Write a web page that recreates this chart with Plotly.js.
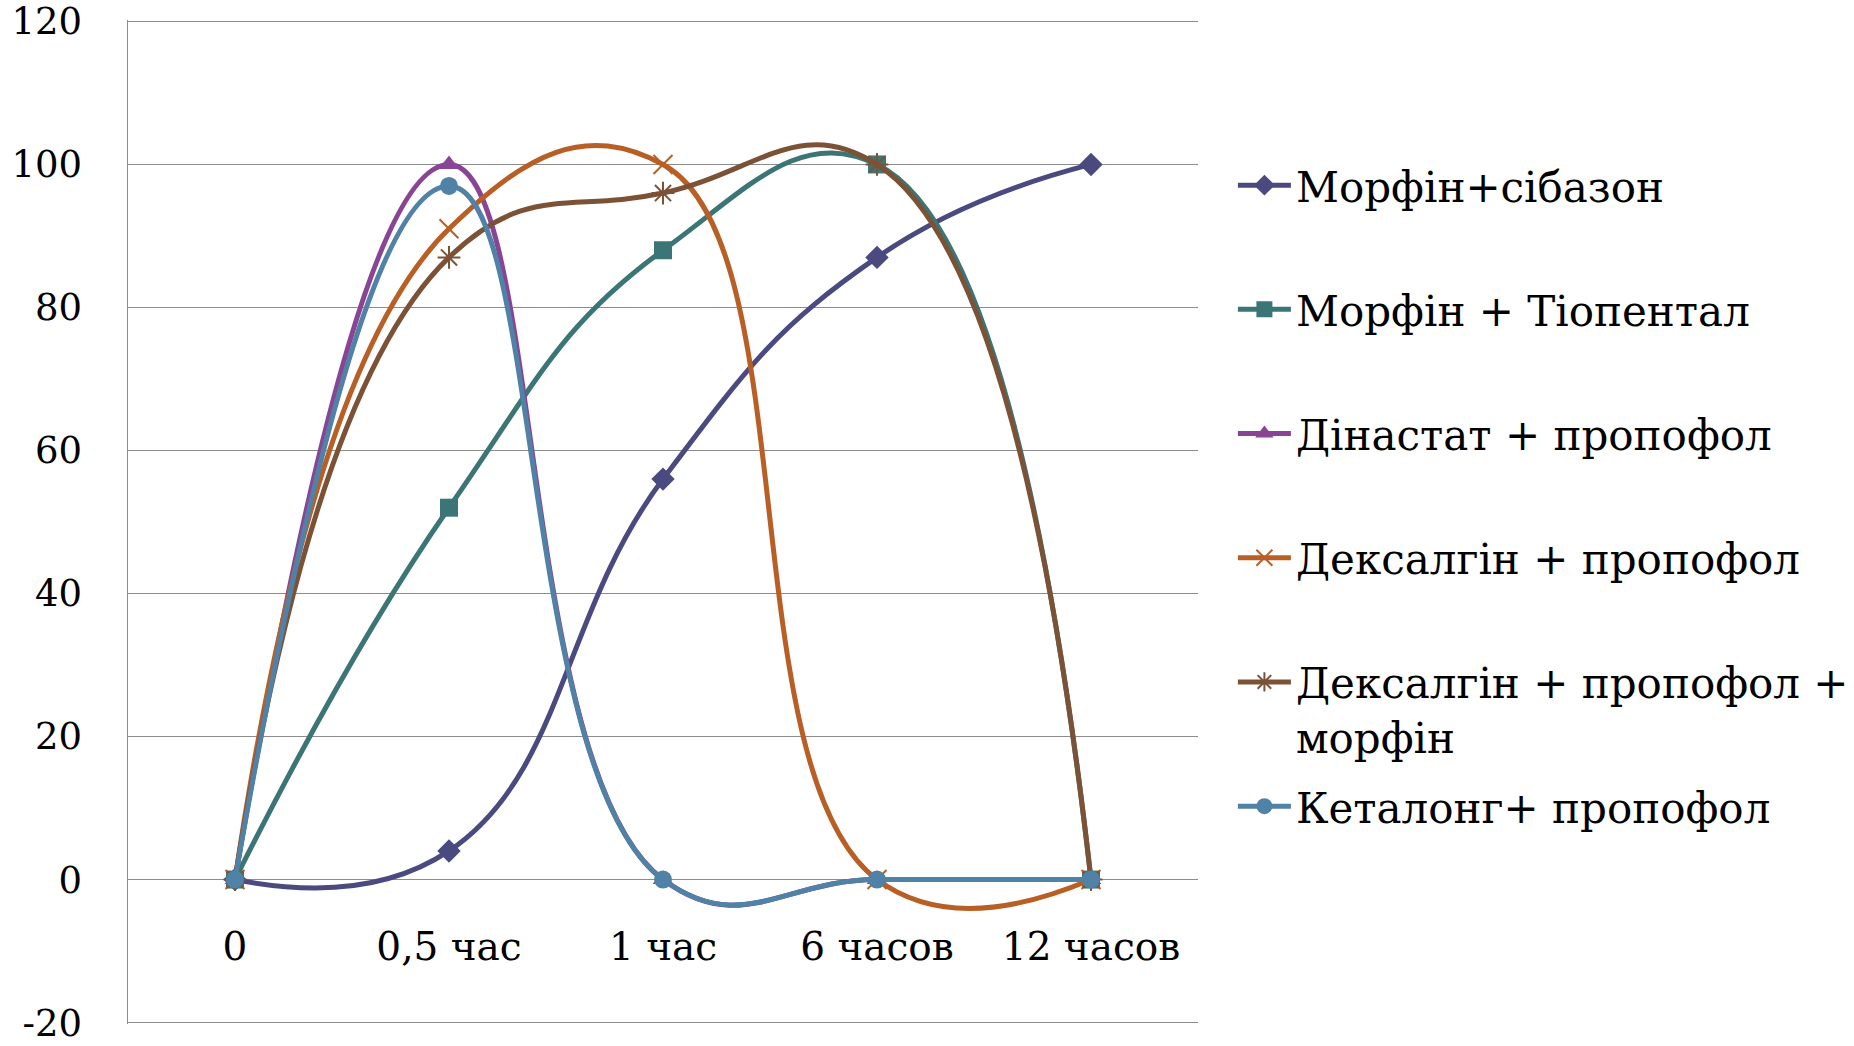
<!DOCTYPE html>
<html><head><meta charset="utf-8">
<script src="https://cdn.plot.ly/plotly-3.0.1.min.js"></script>
<style>html,body{margin:0;padding:0;background:#fff}</style>
</head><body><div id="chart" style="width:1854px;height:1046px"></div>
<script>
const categories = ['0', '0,5 час', '1 час', '6 часов', '12 часов'];
const seriesNames = ['Морфін+сібазон', 'Морфін + Тіопентал', 'Дінастат + пропофол', 'Дексалгін + пропофол', 'Дексалгін + пропофол +<br>морфін', 'Кеталонг+ пропофол'];
const morphineSibazon = [0, 4, 56, 87, 100];
const morphineThiopental = [0, 52, 88, 100, 0];
const dinastatPropofol = [0, 100, 0, 0, 0];
const dexalginPropofol = [0, 91, 100, 0, 0];
const dexalginPropofolMorphine = [0, 87, 96, 100, 0];
const ketalongPropofol = [0, 97, 0, 0, 0];
const yTickVals = [-20, 0, 20, 40, 60, 80, 100, 120];

const seriesValues = [morphineSibazon, morphineThiopental, dinastatPropofol, dexalginPropofol, dexalginPropofolMorphine, ketalongPropofol];
const colors = ['#4a4a80', '#3b7575', '#8a4495', '#b85f25', '#7c5236', '#5081a6'];
const symbols = ['diamond', 'square', 'triangle-up', 'x-thin-open', 'asterisk-open', 'circle'];

const traces = seriesValues.map((vals, i) => {
  const lineOnly = symbols[i].endsWith('-open');
  const label = seriesNames[i].includes('<br>') ? seriesNames[i] : seriesNames[i] + '<br>';
  return {
    type: 'scatter', mode: 'lines+markers',
    x: categories, y: vals, name: label, legendgroup: 'g' + i,
    line: {color: colors[i], width: 5, shape: 'spline', smoothing: 1.3},
    marker: {symbol: symbols[i], size: lineOnly ? 19 : 18, color: colors[i],
             line: {color: colors[i], width: lineOnly ? 2 : 0}},
    cliponaxis: false
  };
});

const yPad = 0.2;
const layout = {
  width: 1854, height: 1046,
  margin: {l: 128, r: 656, t: 19.6, b: 21.6, pad: 0},
  paper_bgcolor: '#ffffff', plot_bgcolor: '#ffffff',
  font: {family: 'DejaVu Serif, serif', color: '#000000'},
  showlegend: true,
  legend: {
    xref: 'container', yref: 'container', x: 0.665, y: 0.8553, xanchor: 'left', yanchor: 'top',
    font: {size: 42, color: '#000000', family: 'DejaVu Serif, serif'},
    itemwidth: 53, tracegroupgap: 12, valign: 'top', bgcolor: 'rgba(0,0,0,0)',
    maxheight: 1000
  },
  xaxis: {
    type: 'category', range: [-0.5, 4.5], anchor: 'free', position: (20 + yPad) / (140 + 2 * yPad),
    showline: false, showgrid: false, zeroline: false, ticks: '',
    tickfont: {size: 39, family: 'DejaVu Serif, serif', color: '#000'},
    ticklabelstandoff: 40, automargin: false, fixedrange: true
  },
  yaxis: {
    range: [-20 - yPad, 120 + yPad], tickvals: yTickVals, ticktext: yTickVals.map(String),
    showgrid: true, gridcolor: '#8c8c8c', gridwidth: 1.5,
    zeroline: true, zerolinecolor: '#8c8c8c', zerolinewidth: 1.5,
    showline: true, linecolor: '#8c8c8c', linewidth: 1.5, ticks: '',
    tickfont: {size: 37, family: 'DejaVu Serif, serif', color: '#000'},
    ticklabelstandoff: 37, ticklabeloverflow: 'allow', automargin: false, fixedrange: true
  }
};

Plotly.newPlot('chart', traces, layout, {displayModeBar: false, staticPlot: true});
</script>
</body></html>
